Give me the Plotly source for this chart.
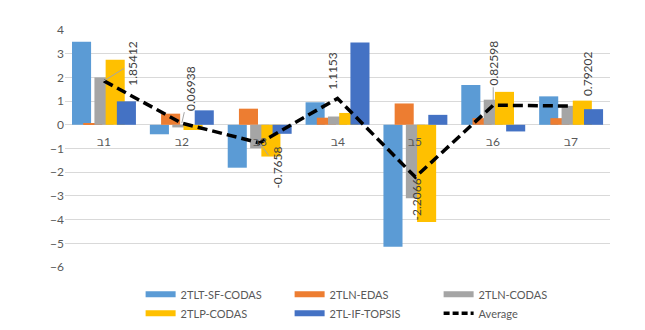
import plotly.graph_objects as go

# categories (LRM keeps the bet on the left, as in the source chart)
categories = ["ב\u200e1", "ב\u200e2", "ב\u200e3", "ב\u200e4", "ב\u200e5", "ב\u200e6", "ב\u200e7"]

tlt_sf_codas = [3.50, -0.40, -1.81, 0.95, -5.15, 1.68, 1.20]
tln_edas = [0.04, 0.47, 0.68, 0.30, 0.90, 0.28, 0.28]
tln_codas = [2.00, -0.11, -0.99, 0.35, -3.10, 1.06, 0.80]
tlp_codas = [2.75, -0.22, -1.34, 0.50, -4.10, 1.39, 1.02]
tl_if_topsis = [0.99, 0.61, -0.38, 3.47, 0.42, -0.28, 0.66]
average = [1.85412, 0.06938, -0.7658, 1.1153, -2.2066, 0.82598, 0.79202]
average_text = ["1.85412", "0.06938", "-0.7658", "1.1153", "-2.2066", "0.82598", "0.79202"]

series = [
    ("2TLT-SF-CODAS", tlt_sf_codas, "#5B9BD5"),
    ("2TLN-EDAS", tln_edas, "#ED7D31"),
    ("2TLN-CODAS", tln_codas, "#A5A5A5"),
    ("2TLP-CODAS", tlp_codas, "#FFC000"),
    ("2TL-IF-TOPSIS", tl_if_topsis, "#4472C4"),
]

FONT = "Lato, 'DejaVu Sans', sans-serif"
GREY_TXT = "#595959"

fig = go.Figure()

# overlapping clustered bars, like Excel with negative gap
bar_w = 0.245
step = 0.144
for i, (name, vals, color) in enumerate(series):
    fig.add_trace(go.Bar(
        x=categories, y=vals, name=name, showlegend=False,
        marker=dict(color=color, line=dict(width=0)),
        width=bar_w, offset=-0.41 + i * step,
    ))

fig.add_trace(go.Scatter(
    x=categories, y=average, mode="lines", name="Average", showlegend=False,
    line=dict(color="black", width=3.5, dash="10px,5px"),
))

# legend entries drawn as wide swatches
for name, vals, color in series:
    fig.add_trace(go.Scatter(x=[None], y=[None], mode="lines", name=name,
                             line=dict(color=color, width=6)))
fig.add_trace(go.Scatter(x=[None], y=[None], mode="lines", name="Average",
                         line=dict(color="black", width=3.5, dash="6px,3px")))

# category labels sit next to the zero line
for c in categories:
    fig.add_annotation(x=c, y=0, text=c, showarrow=False, yshift=-17,
                       font=dict(size=12, color=GREY_TXT, family=FONT))

# data labels for the average line: (pixel offset x, y, leader line?)
label_pos = [(29, -18, True), (8, -35, True), (18, 25, True), (-5, -27, False),
             (1, 22, False), (0, -42, True), (16, -32, False)]
for c, v, t, (dx, dy, lead) in zip(categories, average, average_text, label_pos):
    if lead:
        fig.add_annotation(x=c, y=v, text=t, textangle=-90, showarrow=True,
                           arrowhead=0, arrowwidth=1, arrowcolor="#A6A6A6",
                           ax=dx, ay=dy, standoff=0,
                           font=dict(size=12, color="#404040", family=FONT))
    else:
        fig.add_annotation(x=c, y=v, text=t, textangle=-90, showarrow=False,
                           xshift=dx, yshift=-dy,
                           font=dict(size=12, color="#404040", family=FONT))

fig.update_layout(
    width=645, height=330,
    margin=dict(l=65, r=35, t=30, b=63, autoexpand=False),
    barmode="overlay",
    plot_bgcolor="white", paper_bgcolor="white",
    font=dict(family=FONT, size=12, color=GREY_TXT),
    legend=dict(orientation="h", xref="container", yref="container",
                x=0.218, xanchor="left", y=0.152, yanchor="top",
                entrywidth=104, entrywidthmode="pixels",
                font=dict(size=11, color=GREY_TXT, family=FONT),
                traceorder="normal"),
)
fig.update_xaxes(showticklabels=False, showgrid=False, zeroline=False,
                 showline=False, ticks="")
fig.update_yaxes(range=[-6, 4], dtick=1, showgrid=True, gridcolor="#D9D9D9",
                 gridwidth=1, zeroline=True, zerolinecolor="#D9D9D9",
                 zerolinewidth=1, ticks="", ticklabelstandoff=0,
                 tickfont=dict(size=12, color=GREY_TXT, family=FONT))

# drop the browser's default body margin so the chart sits at the page corner
fig.write_html("out.html", config={"displayModeBar": False},
               post_script="document.body.style.margin='0';")
